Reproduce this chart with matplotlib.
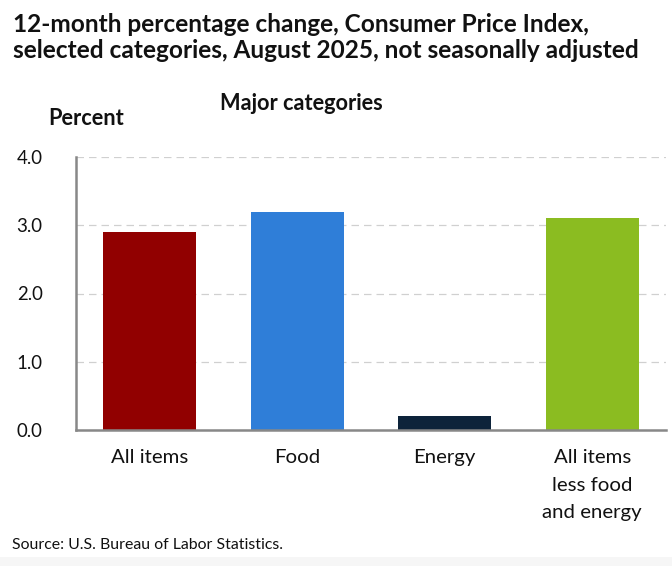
import matplotlib
matplotlib.use("Agg")
import matplotlib.pyplot as plt
from matplotlib.patches import Rectangle

categories = ["All items", "Food", "Energy", "All items\nless food\nand energy"]
values = [2.9, 3.2, 0.2, 3.1]
colors = ["#910000", "#2f7ed8", "#0d233a", "#8bbc21"]
yticks = [0.0, 1.0, 2.0, 3.0, 4.0]
ytick_labels = ["0.0", "1.0", "2.0", "3.0", "4.0"]
title_lines = ["12-month percentage change, Consumer Price Index,",
               "selected categories, August 2025, not seasonally adjusted"]

plt.rcParams['font.family'] = ['Lato', 'DejaVu Sans']
W, H = 672, 566

fig = plt.figure(figsize=(W / 100, H / 100), dpi=100)
fig.patch.set_facecolor("white")
fig.patches.append(Rectangle((0, 0), 1, 9 / H, transform=fig.transFigure,
                             facecolor="#f6f6f6", edgecolor="none", zorder=0))
renderer = fig.canvas.get_renderer()


def fit_size(text, weight, target_px, start=12.0):
    t = fig.text(0, 0, text, fontsize=start, fontweight=weight)
    size = start
    for _ in range(3):
        w = t.get_window_extent(renderer).width
        size *= target_px / w
        t.set_fontsize(size)
    t.remove()
    return size


ax = fig.add_axes([76 / W, 1 - 430 / H, (666 - 76) / W, (430 - 157) / H])
x = list(range(len(categories)))
ax.bar(x, values, width=0.63, color=colors, zorder=3)
ax.set_xlim(-0.5, len(categories) - 0.5)
ax.set_ylim(0, 4.0)

tick_size = fit_size("4.0", "normal", 26)
cat_size = fit_size("All items", "normal", 77)

ax.set_yticks(yticks)
ax.set_yticklabels(ytick_labels, fontsize=tick_size, color="#111111")
ax.set_xticks(x)
ax.set_xticklabels(categories, fontsize=cat_size, color="#111111", linespacing=1.72,
                   va="top")
ax.tick_params(axis="both", length=0)
ax.tick_params(axis="y", pad=24)
ax.tick_params(axis="x", pad=14)
ax.yaxis.grid(True, linestyle=(0, (6, 4)), color="#d0d0d0", linewidth=0.9, zorder=0)
ax.set_axisbelow(True)
for s in ["top", "right"]:
    ax.spines[s].set_visible(False)
for s in ["left", "bottom"]:
    ax.spines[s].set_color("#888888")
    ax.spines[s].set_linewidth(1.8)
    ax.spines[s].set_zorder(4)

title_size = fit_size(title_lines[1], "bold", 627)
fig.text(13 / W, 1 - 24 / H, title_lines[0], fontsize=title_size, fontweight="bold",
         color="#111111", va="center", ha="left")
fig.text(13 / W, 1 - 50 / H, title_lines[1], fontsize=title_size, fontweight="bold",
         color="#111111", va="center", ha="left")

mc_size = fit_size("Major categories", "bold", 163)
fig.text(220 / W, 1 - 103 / H, "Major categories", fontsize=mc_size, fontweight="bold",
         color="#111111", va="center", ha="left")
fig.text(48 / W, 1 - 119 / H, "Percent", fontsize=mc_size, fontweight="bold",
         color="#111111", va="center", ha="left")
src_size = fit_size("Source: U.S. Bureau of Labor Statistics.", "normal", 270)
fig.text(12 / W, 1 - 545 / H, "Source: U.S. Bureau of Labor Statistics.", fontsize=src_size,
         color="#111111", va="center", ha="left")

fig.savefig("out.png", dpi=100)
